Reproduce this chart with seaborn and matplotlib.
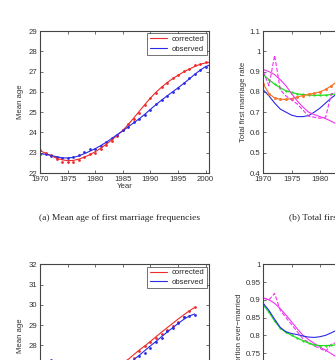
import numpy as np
import pandas as pd
import matplotlib
matplotlib.use('Agg')
import matplotlib.pyplot as plt
import seaborn as sns

sns.set_style('white')
plt.rcParams['font.family'] = ['Liberation Sans', 'DejaVu Sans']

# data ========================================================================
years_line = list(range(1970, 2002))
years_dot = list(range(1970, 2001))

# (a) mean age at first marriage
age_corr_line = [23.10, 22.98, 22.85, 22.73, 22.65, 22.61, 22.62, 22.68, 22.78, 22.90,
                 23.05, 23.22, 23.42, 23.63, 23.86, 24.10, 24.40, 24.72, 25.05, 25.38,
                 25.70, 25.98, 26.23, 26.45, 26.65, 26.82, 26.98, 27.12, 27.25, 27.36,
                 27.43, 27.47]
age_obs_line = [22.95, 22.92, 22.87, 22.80, 22.75, 22.74, 22.77, 22.84, 22.95, 23.07,
                23.20, 23.35, 23.52, 23.70, 23.90, 24.08, 24.28, 24.48, 24.68, 24.90,
                25.14, 25.37, 25.59, 25.80, 26.00, 26.20, 26.41, 26.63, 26.86, 27.07,
                27.25, 27.35]
age_corr_dot = [23.12, 23.00, 22.88, 22.70, 22.55, 22.56, 22.56, 22.65, 22.80, 22.95,
                23.00, 23.20, 23.40, 23.58, 23.82, 24.10, 24.42, 24.68, 24.98, 25.36,
                25.70, 25.96, 26.24, 26.45, 26.66, 26.84, 27.02, 27.12, 27.30, 27.38,
                27.45]
age_obs_dot = [22.93, 22.95, 22.85, 22.80, 22.72, 22.76, 22.80, 22.87, 23.02, 23.20,
               23.20, 23.35, 23.55, 23.72, 23.88, 24.10, 24.28, 24.50, 24.66, 24.88,
               25.12, 25.38, 25.58, 25.80, 25.98, 26.18, 26.42, 26.66, 26.86, 27.08,
               27.22]

# (b) total first marriage rate
years_r = list(range(1970, 1986))
tfmr_blue = [0.81, 0.78, 0.745, 0.715, 0.70, 0.685, 0.678, 0.678, 0.683, 0.70,
             0.72, 0.745, 0.77, 0.79, 0.81, 0.83]
tfmr_green = [0.885, 0.86, 0.838, 0.82, 0.805, 0.797, 0.79, 0.787, 0.784, 0.783,
              0.783, 0.784, 0.787, 0.79, 0.79, 0.79]
tfmr_orange = [0.84, 0.79, 0.77, 0.763, 0.763, 0.767, 0.775, 0.782, 0.788, 0.793,
               0.80, 0.812, 0.83, 0.85, 0.87, 0.885]
tfmr_mag = [0.91, 0.90, 0.885, 0.86, 0.83, 0.79, 0.755, 0.725, 0.70, 0.688,
            0.678, 0.668, 0.655, 0.64, 0.63, 0.62]
tfmr_mag_raw = [0.90, 0.83, 0.98, 0.81, 0.78, 0.76, 0.74, 0.71, 0.68, 0.675,
                0.67, 0.675, 0.79, 0.80, 0.78, 0.76]

# (c) mean age, second set
years_c = list(range(1970, 1999))
age2_corr = [26.0, 26.0, 26.0, 26.0, 26.0, 26.1, 26.1, 26.2, 26.3, 26.4,
             26.5, 26.6, 26.7, 26.85, 27.0, 27.15, 27.32, 27.55, 27.78, 27.98,
             28.2, 28.43, 28.65, 28.87, 29.08, 29.3, 29.5, 29.7, 29.87]
age2_obs = [25.8, 25.8, 25.8, 25.8, 25.8, 25.9, 25.9, 26.0, 26.1, 26.2,
            26.3, 26.4, 26.5, 26.6, 26.75, 26.9, 27.08, 27.3, 27.52, 27.75,
            27.98, 28.2, 28.43, 28.65, 28.87, 29.08, 29.28, 29.45, 29.55]
years_c_dot = list(range(1987, 1999))
age2_corr_dot = [27.38, 27.72, 27.97, 28.17, 28.38, 28.55, 28.77, 28.97, 29.17, 29.38,
                 29.72, 29.88]
age2_obs_dot_years = [1972, 1988, 1989, 1990, 1991, 1992, 1993, 1994, 1995, 1996, 1997, 1998]
age2_obs_dot = [27.3, 27.47, 27.63, 27.88, 28.17, 28.38, 28.72, 28.88, 29.13, 29.38,
                29.45, 29.52]

# (d) proportion ever-married
prop_blue = [0.89, 0.87, 0.845, 0.822, 0.81, 0.805, 0.802, 0.798, 0.795, 0.794,
             0.796, 0.80, 0.807, 0.815, 0.82, 0.825]
prop_green = [0.885, 0.865, 0.84, 0.82, 0.808, 0.80, 0.792, 0.785, 0.778, 0.773,
              0.771, 0.771, 0.772, 0.773, 0.775, 0.777]
prop_mag = [0.905, 0.90, 0.89, 0.875, 0.857, 0.838, 0.818, 0.80, 0.788, 0.777,
            0.767, 0.758, 0.748, 0.738, 0.73, 0.72]
prop_mag_raw = [0.905, 0.90, 0.918, 0.87, 0.85, 0.83, 0.81, 0.79, 0.78, 0.77,
                0.763, 0.755, 0.775, 0.78, 0.77, 0.76]

RED = '#ee2a2a'
BLUE = '#2a2ae6'
GREEN = '#22dd22'
ORANGE = '#f47a30'
MAG = '#ee33ee'
FS = 5.6

# figure ======================================================================
fig = plt.figure(figsize=(3.35, 3.6), dpi=100)
W, H = 335, 360


def box(x0, y0, w=169, h=142):
    return [x0 / W, 1 - (y0 + h) / H, w / W, h / H]


def style(ax, xlim, ylim, yticks, ylabels):
    ax.set_xlim(*xlim)
    ax.set_ylim(*ylim)
    ax.set_xticks(range(1970, 2001, 5))
    ax.set_yticks(yticks)
    ax.set_yticklabels(ylabels)
    ax.tick_params(direction='in', length=2.2, width=0.5, labelsize=FS, pad=2,
                   colors='#333333', top=True, right=True, bottom=True, left=True)
    for s in ax.spines.values():
        s.set_visible(True)
        s.set_linewidth(0.8)
        s.set_color('#444444')


def legend(ax):
    lg = ax.legend(loc='upper right', fontsize=FS, frameon=True, fancybox=False,
                   borderaxespad=0.3, handlelength=2.2, handletextpad=0.6,
                   borderpad=0.3, labelspacing=0.25)
    lg.get_frame().set_edgecolor('#333333')
    lg.get_frame().set_linewidth(0.6)


# (a)
ax = fig.add_axes(box(40, 31))
sns.lineplot(x=years_line, y=age_corr_line, color=RED, lw=0.8, ax=ax, label='corrected')
sns.lineplot(x=years_line, y=age_obs_line, color=BLUE, lw=0.8, ax=ax, label='observed')
sns.scatterplot(x=years_dot, y=age_corr_dot, color=RED, s=4, linewidth=0, ax=ax)
sns.scatterplot(x=years_dot, y=age_obs_dot, color=BLUE, s=4, linewidth=0, ax=ax)
style(ax, (1970, 2000.6), (22, 29), range(22, 30), [str(v) for v in range(22, 30)])
ax.set_xlabel('Year', fontsize=FS, labelpad=0.5, color='#333333')
ax.set_ylabel('Mean age', fontsize=FS, labelpad=3, color='#333333')
legend(ax)

# (b)
ax = fig.add_axes(box(263.3, 31, w=170))
sns.lineplot(x=years_r, y=tfmr_blue, color=BLUE, lw=0.8, ax=ax)
sns.lineplot(x=years_r, y=tfmr_green, color=GREEN, lw=0.9, marker='o', ms=1.6,
             mec='none', ax=ax)
sns.lineplot(x=years_r, y=tfmr_orange, color=ORANGE, lw=0.9, marker='o', ms=2.2,
             mec='none', ax=ax)
sns.lineplot(x=years_r, y=tfmr_mag, color=MAG, lw=0.8, ax=ax)
sns.lineplot(x=years_r, y=tfmr_mag_raw, color=MAG, lw=0.8, ls='--', ax=ax)
style(ax, (1970, 2000), (0.4, 1.1), np.arange(0.4, 1.15, 0.1),
      ['0.4', '0.5', '0.6', '0.7', '0.8', '0.9', '1', '1.1'])
ax.set_ylabel('Total first marriage rate', fontsize=FS, labelpad=2, color='#333333')

# (c)
ax = fig.add_axes(box(40, 264.3))
sns.lineplot(x=years_c, y=age2_corr, color=RED, lw=0.8, ax=ax, label='corrected')
sns.lineplot(x=years_c, y=age2_obs, color=BLUE, lw=0.8, ax=ax, label='observed')
sns.scatterplot(x=years_c_dot, y=age2_corr_dot, color=RED, s=4, linewidth=0, ax=ax)
sns.scatterplot(x=age2_obs_dot_years, y=age2_obs_dot, color=BLUE, s=4, linewidth=0, ax=ax)
style(ax, (1970, 2000.6), (25, 32), range(25, 33), [str(v) for v in range(25, 33)])
ax.set_ylabel('Mean age', fontsize=FS, labelpad=3, color='#333333')
legend(ax)

# (d)
ax = fig.add_axes(box(263.3, 264.3, w=170))
sns.lineplot(x=years_r, y=prop_mag, color=MAG, lw=0.8, ax=ax)
sns.lineplot(x=years_r, y=prop_mag_raw, color=MAG, lw=0.8, ls='--', ax=ax)
sns.lineplot(x=years_r, y=prop_green, color=GREEN, lw=0.9, marker='o', ms=1.6,
             mec='none', ax=ax)
sns.lineplot(x=years_r, y=prop_blue, color=BLUE, lw=0.8, ax=ax)
style(ax, (1970, 2000), (0.6, 1.0), np.arange(0.6, 1.01, 0.05),
      ['0.6', '0.65', '0.7', '0.75', '0.8', '0.85', '0.9', '0.95', '1'])
ax.set_ylabel('Proportion ever\u2212married', fontsize=FS, labelpad=2, color='#333333')

# captions
fig.text(119.5 / W, 1 - 217.7 / H, '(a) Mean age of first marriage frequencies',
         family=['Liberation Serif', 'DejaVu Serif'], fontsize=6.8, ha='center', va='center')
fig.text(289 / W, 1 - 217.7 / H, '(b) Total first marriage rates',
         family=['Liberation Serif', 'DejaVu Serif'], fontsize=6.8, ha='left', va='center')

fig.savefig('out.png', dpi=100)
